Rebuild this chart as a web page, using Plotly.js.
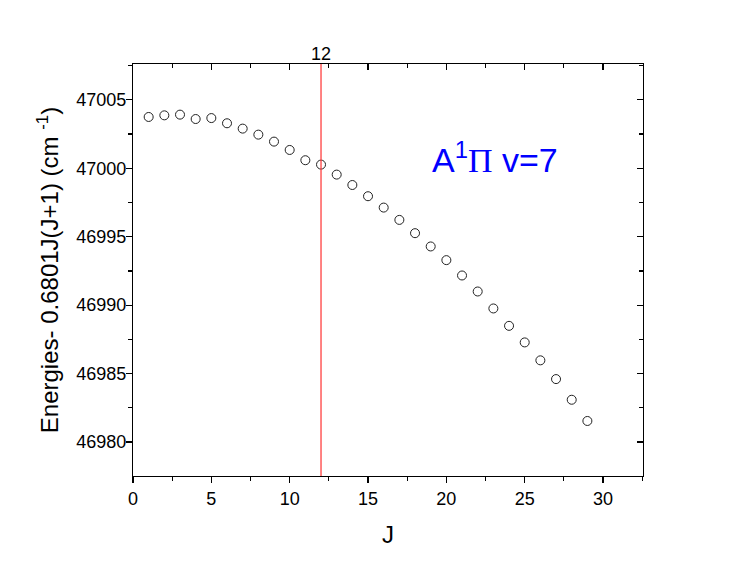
<!DOCTYPE html>
<html>
<head>
<meta charset="utf-8">
<script src="https://cdn.plot.ly/plotly-3.0.1.min.js"></script>
<style>html,body{margin:0;padding:0;background:#fff;}</style>
</head>
<body>
<div id="chart" style="width:747px;height:572px;"></div>
<script>
const J = [1,2,3,4,5,6,7,8,9,10,11,12,13,14,15,16,17,18,19,20,21,22,23,24,25,26,27,28,29];
const energies = [47003.75,47003.87,47003.92,47003.60,47003.67,47003.29,47002.90,47002.46,47001.95,47001.34,
  47000.59,47000.27,46999.54,46998.78,46997.96,46997.13,46996.23,46995.26,46994.29,46993.29,
  46992.17,46991.00,46989.76,46988.49,46987.28,46985.97,46984.60,46983.09,46981.54];
const refJ = 12;
const xRange = [0, 32.55];
const yRange = [46977.52, 47007.62];
const fontFam = "Liberation Sans, Arial, sans-serif";

const traces = [
  {
    x: J, y: energies, type: 'scatter', mode: 'markers',
    marker: {symbol: 'circle-open', size: 9, color: '#222', line: {width: 1, color: '#222'}},
    hoverinfo: 'x+y', showlegend: false
  },
  {x: [], y: [], xaxis: 'x2', yaxis: 'y2', type: 'scatter', showlegend: false}
];

const layout = {
  width: 747, height: 572,
  margin: {l: 133, r: 104, t: 64, b: 96},
  paper_bgcolor: '#fff', plot_bgcolor: '#fff',
  font: {family: fontFam, color: '#000', size: 18},
  showlegend: false,
  xaxis: {
    range: xRange, tick0: 0, dtick: 5, ticks: 'outside', ticklen: 6, tickwidth: 1.2, tickcolor: '#000',
    minor: {dtick: 2.5, ticks: 'outside', ticklen: 4, tickwidth: 1.2, tickcolor: '#000'},
    showline: true, linecolor: '#000', linewidth: 1.2, showgrid: false, zeroline: false,
    tickfont: {size: 18, family: fontFam},
    title: {text: 'J', font: {size: 24, family: fontFam}, standoff: 18}
  },
  yaxis: {
    range: yRange, tick0: 46980, dtick: 5, ticks: 'outside', ticklen: 6, tickwidth: 1.2, tickcolor: '#000',
    minor: {dtick: 2.5, ticks: 'outside', ticklen: 4, tickwidth: 1.2, tickcolor: '#000'},
    showline: true, linecolor: '#000', linewidth: 1.2, showgrid: false, zeroline: false,
    tickfont: {size: 18, family: fontFam}, tickformat: 'd', ticklabelstandoff: -4,
    title: {text: 'Energies- 0.6801J(J+1) (cm <sup>-1</sup>)', font: {size: 24, family: fontFam}, standoff: 10}
  },
  xaxis2: {
    overlaying: 'x', side: 'top', anchor: 'y2', range: xRange, tick0: 0, dtick: 5,
    ticks: 'inside', ticklen: 6, tickwidth: 1.2, tickcolor: '#000', showticklabels: false,
    minor: {dtick: 2.5, ticks: 'inside', ticklen: 4, tickwidth: 1.2, tickcolor: '#000'},
    showline: true, linecolor: '#000', linewidth: 1.2, showgrid: false, zeroline: false
  },
  yaxis2: {
    overlaying: 'y', side: 'right', anchor: 'x2', range: yRange, tick0: 46980, dtick: 5,
    ticks: 'inside', ticklen: 6, tickwidth: 1.2, tickcolor: '#000', showticklabels: false,
    minor: {dtick: 2.5, ticks: 'inside', ticklen: 4, tickwidth: 1.2, tickcolor: '#000'},
    showline: true, linecolor: '#000', linewidth: 1.2, showgrid: false, zeroline: false
  },
  shapes: [
    {type: 'line', xref: 'x', yref: 'paper', x0: refJ, x1: refJ, y0: 0, y1: 1,
     line: {color: '#ff4040', width: 1.3}}
  ],
  annotations: [
    {x: refJ, xref: 'x', y: 1, yref: 'paper', yanchor: 'bottom', xanchor: 'center', showarrow: false,
     text: String(refJ), font: {size: 18, family: fontFam, color: '#000'}, yshift: -2},
    {x: 0.71, xref: 'paper', y: 0.772, yref: 'paper', xanchor: 'center', yanchor: 'middle', showarrow: false,
     text: 'A<sup>1</sup><span style="font-family:\'Liberation Serif\', \'Times New Roman\', serif">Π</span> v=7',
     font: {size: 34, family: fontFam, color: '#0000ff'}}
  ]
};

Plotly.newPlot('chart', traces, layout, {displayModeBar: false, staticPlot: true});
</script>
</body>
</html>
